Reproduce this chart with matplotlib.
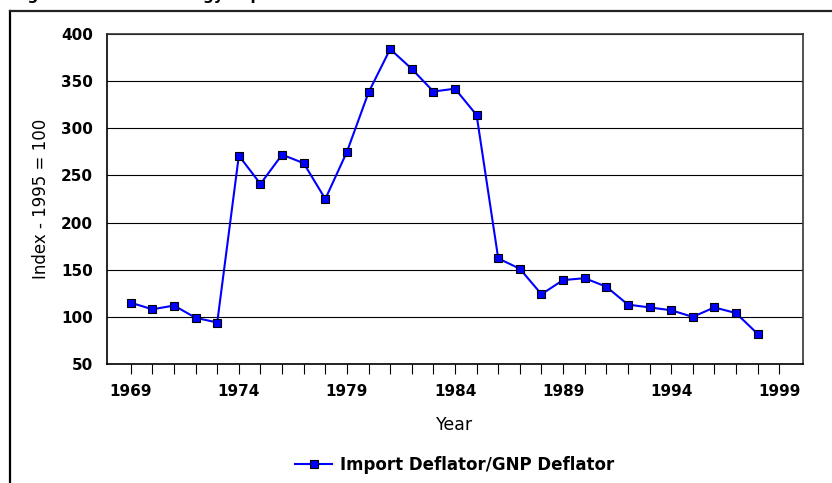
import matplotlib
matplotlib.use("Agg")
import matplotlib.pyplot as plt
from matplotlib.lines import Line2D

plt.rcParams['font.family'] = ['DejaVu Sans']

years = list(range(1969, 1999))
ratio = [115, 108, 112, 99, 94, 271, 241, 272, 263, 225, 275, 338, 384, 363,
         339, 342, 314, 162, 151, 124, 139, 141, 132, 113, 110, 107, 100, 110,
         104, 82]
yticks = [50, 100, 150, 200, 250, 300, 350, 400]
series_name = "Import Deflator/GNP Deflator"
title = "Figure 3.11: Real Energy Import Prices"

W, H = 832, 483
fig = plt.figure(figsize=(W / 100, H / 100), dpi=100)
ax = fig.add_axes([107 / W, 1 - 364 / H, 696 / W, 330 / H])

ax.plot(years, ratio, color='#0000FF', linewidth=1.5, marker='s',
        markersize=6, markerfacecolor='#0000FF', markeredgecolor='black',
        markeredgewidth=0.8, label=series_name, zorder=3)

ax.set_xlim(1967.9, 2000.1)
ax.set_ylim(50, 400)
ax.set_yticks(yticks)
ax.set_yticklabels([str(v) for v in yticks], fontweight='bold', fontsize=11)
ax.yaxis.grid(True, color='black', linewidth=0.8)
ax.set_axisbelow(True)

all_years = list(range(1969, 2000))
ax.set_xticks(all_years)
ax.set_xticklabels([str(y) if (y - 1969) % 5 == 0 else '' for y in all_years],
                   fontweight='bold', fontsize=11)
ax.tick_params(axis='x', direction='out', length=7.5, width=0.8, pad=7)
ax.tick_params(axis='y', length=0, pad=10)

for s in ['left', 'bottom']:
    ax.spines[s].set_color('black')
    ax.spines[s].set_linewidth(1.2)
for s in ['top', 'right']:
    ax.spines[s].set_color('#333333')
    ax.spines[s].set_linewidth(1.2)

ax.set_ylabel("Index - 1995 = 100", fontsize=12, labelpad=8)
ax.set_xlabel("Year", fontsize=12.5, labelpad=12)

fig.legend(loc='center', bbox_to_anchor=(455 / W, 1 - 465 / H), frameon=False,
           prop={'weight': 'bold', 'size': 12}, handlelength=2.2,
           handletextpad=0.5)

# chart area border (partly off the picture)
fig.add_artist(Line2D([10 / W, 10 / W], [0, 1 - 11 / H], transform=fig.transFigure,
                      color='black', linewidth=1.6))
fig.add_artist(Line2D([10 / W, 1], [1 - 11 / H, 1 - 11 / H], transform=fig.transFigure,
                      color='#222222', linewidth=1.6))

# title sits above the top edge, only its descenders show
fig.text(12 / W, 1 + 0.5 / H, title, fontweight='bold', fontsize=11, va='baseline')

fig.savefig("out.png", dpi=100)
